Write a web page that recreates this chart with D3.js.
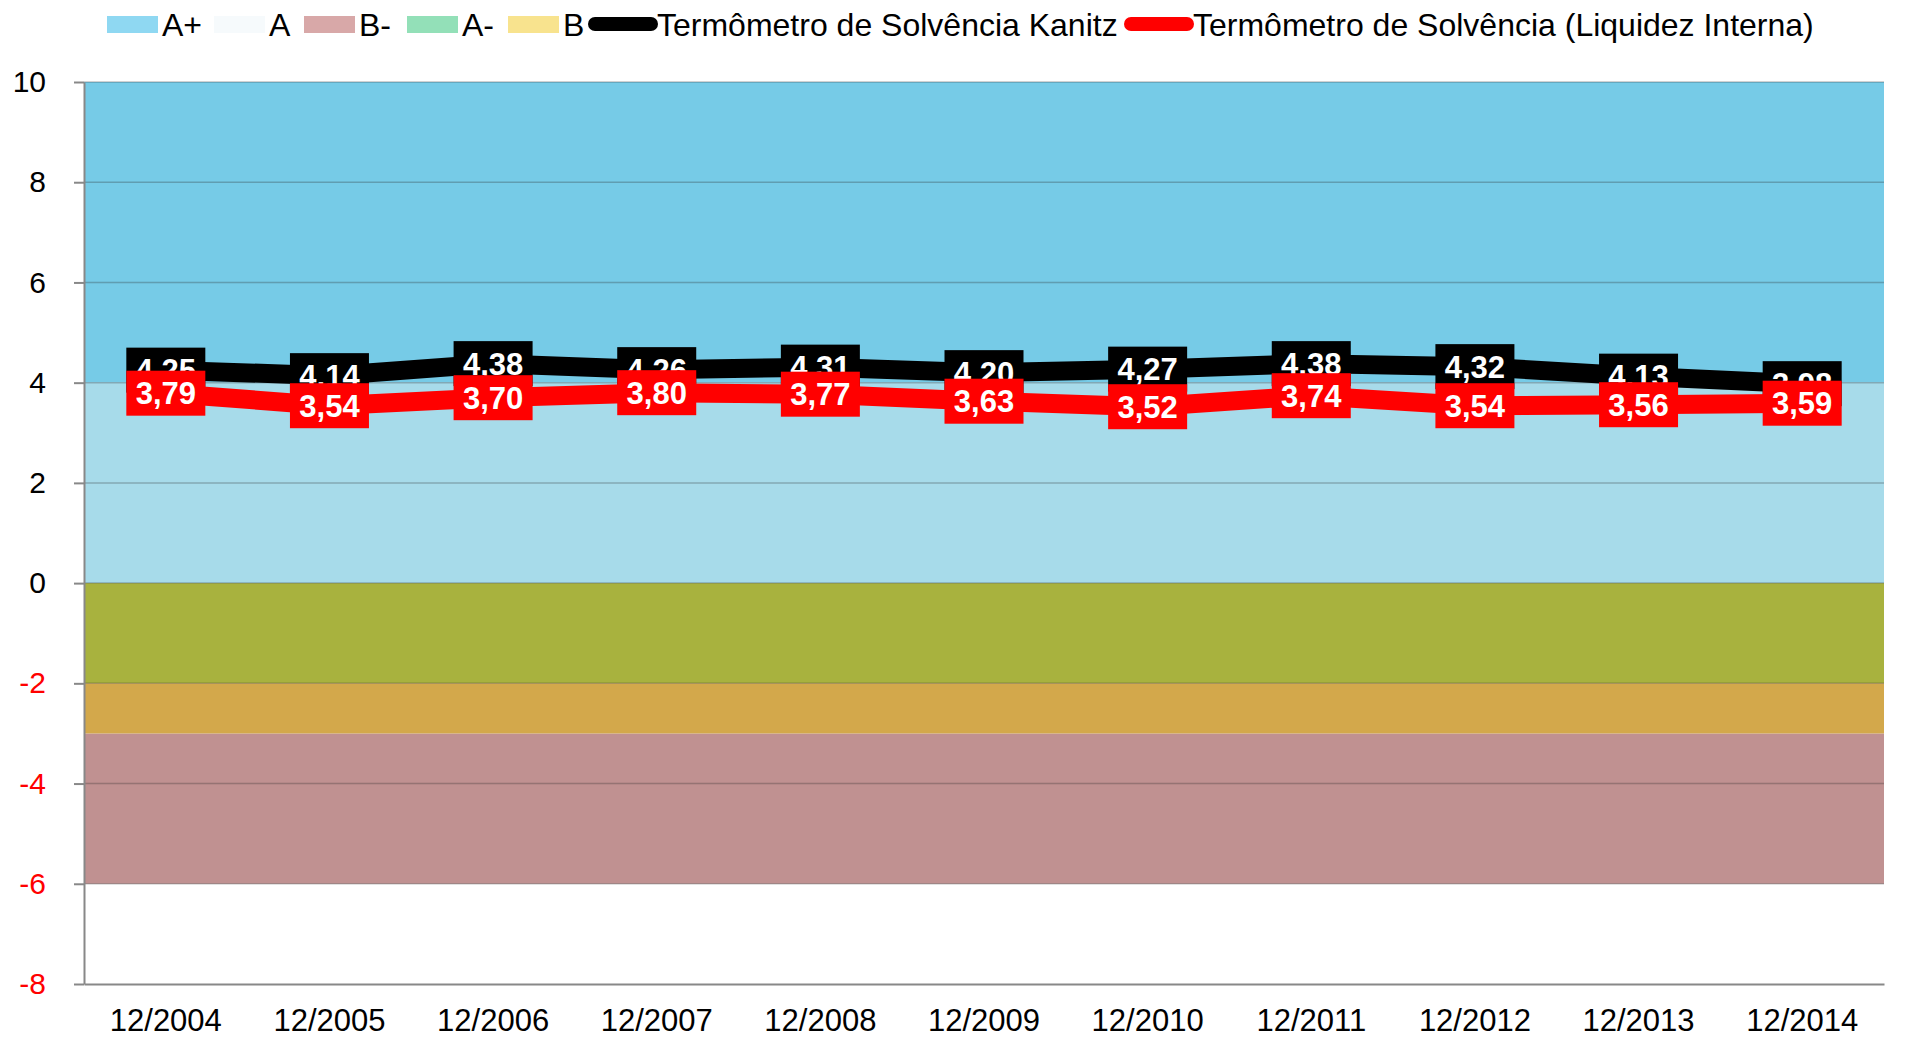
<!DOCTYPE html>
<html>
<head>
<meta charset="utf-8">
<script src="https://cdn.jsdelivr.net/npm/d3@7"></script>
<style>
  html, body { margin: 0; padding: 0; background: #fff; }
  svg { display: block; font-family: "Liberation Sans", Arial, sans-serif; }
</style>
</head>
<body>
<div id="chart"></div>
<script>
// Dados do gráfico
const periods = ["12/2004", "12/2005", "12/2006", "12/2007", "12/2008", "12/2009",
                 "12/2010", "12/2011", "12/2012", "12/2013", "12/2014"];
const kanitz = [4.25, 4.14, 4.38, 4.26, 4.31, 4.20, 4.27, 4.38, 4.32, 4.13, 3.98];
const liquidez = [3.79, 3.54, 3.70, 3.80, 3.77, 3.63, 3.52, 3.74, 3.54, 3.56, 3.59];

// Faixas de classificação
const bandNames = ["A+", "A", "B-", "A-", "B"];
const bandLow = [4, 0, -6, -2, -3];
const bandHigh = [10, 4, -3, 0, -2];
const yTicks = [10, 8, 6, 4, 2, 0, -2, -4, -6, -8];

const lineNames = ["Termômetro de Solvência Kanitz", "Termômetro de Solvência (Liquidez Interna)"];

// Cores
const bandFill = { "A+": "#76cbe7", "A": "#a7dbea", "B-": "#c09191", "A-": "#a8b23e", "B": "#d3a84b" };
const bandSwatch = { "A+": "#8fd8f2", "A": "#f6fafc", "B-": "#d8a8a8", "A-": "#93e0b8", "B": "#f8e38e" };
const lineColor = ["#000000", "#ff0000"];

const width = 1907, height = 1038;
const margin = { top: 82, right: 23, bottom: 54, left: 84 };

const svg = d3.select("#chart").append("svg")
  .attr("width", width)
  .attr("height", height);

const x = d3.scaleBand()
  .domain(periods)
  .range([margin.left, width - margin.right]);

const y = d3.scaleLinear()
  .domain([-8, 10])
  .range([height - margin.bottom, margin.top]);

// Faixas
const bands = bandNames.map((n, i) => ({ name: n, lo: bandLow[i], hi: bandHigh[i] }));
svg.append("g").selectAll("rect")
  .data(bands)
  .join("rect")
  .attr("x", margin.left)
  .attr("width", width - margin.right - margin.left)
  .attr("y", d => y(d.hi))
  .attr("height", d => y(d.lo) - y(d.hi))
  .attr("fill", d => bandFill[d.name]);

// Linhas de grade
svg.append("g").selectAll("line")
  .data(yTicks.filter(t => t > -8))
  .join("line")
  .attr("x1", margin.left)
  .attr("x2", width - margin.right)
  .attr("y1", d => y(d))
  .attr("y2", d => y(d))
  .attr("stroke", "rgba(40,40,40,0.28)")
  .attr("stroke-width", 1.5);

// Eixo Y
const yAxis = svg.append("g")
  .attr("transform", `translate(${margin.left},0)`)
  .call(d3.axisLeft(y).tickValues(yTicks).tickFormat(d => String(d))
    .tickSize(10).tickPadding(28).tickSizeOuter(0));
yAxis.select(".domain").attr("stroke", "#888").attr("stroke-width", 2);
yAxis.selectAll(".tick line").attr("stroke", "#888").attr("stroke-width", 2);
yAxis.selectAll(".tick text")
  .attr("font-size", 30)
  .attr("font-family", "Liberation Sans, Arial, sans-serif")
  .attr("fill", d => d < 0 ? "#ff0000" : "#000");

// Eixo X
const xAxis = svg.append("g")
  .attr("transform", `translate(0,${y(-8)})`)
  .call(d3.axisBottom(x).tickSize(0).tickPadding(25));
xAxis.select(".domain").attr("stroke", "#888").attr("stroke-width", 2);
xAxis.selectAll(".tick text")
  .attr("font-size", 31)
  .attr("font-family", "Liberation Sans, Arial, sans-serif")
  .attr("fill", "#000");

// Séries
const series = [kanitz, liquidez];
const line = d3.line()
  .x((d, i) => x(periods[i]) + x.bandwidth() / 2)
  .y(d => y(d));

const boxW = 79, boxH = 45;
series.forEach((vals, s) => {
  const g = svg.append("g");
  g.append("path")
    .datum(vals)
    .attr("d", line)
    .attr("fill", "none")
    .attr("stroke", lineColor[s])
    .attr("stroke-width", 19)
    .attr("stroke-linejoin", "round");

  const lab = g.selectAll("g.lab")
    .data(vals)
    .join("g")
    .attr("class", "lab")
    .attr("transform", (d, i) => `translate(${x(periods[i]) + x.bandwidth() / 2},${y(d)})`);
  lab.append("rect")
    .attr("x", -boxW / 2)
    .attr("y", -boxH / 2)
    .attr("width", boxW)
    .attr("height", boxH)
    .attr("fill", lineColor[s]);
  lab.append("text")
    .attr("text-anchor", "middle")
    .attr("dy", "0.36em")
    .attr("font-size", 31)
    .attr("font-weight", "bold")
    .attr("fill", "#fff")
    .text(d => d.toFixed(2).replace(".", ","));
});

// Legenda
const legend = svg.append("g").attr("transform", "translate(0,24)");
const legendBandX = [107, 214, 304, 407, 508];
bandNames.forEach((n, i) => {
  legend.append("rect")
    .attr("x", legendBandX[i])
    .attr("y", -8)
    .attr("width", 51)
    .attr("height", 17)
    .attr("fill", bandSwatch[n]);
  legend.append("text")
    .attr("x", legendBandX[i] + 55)
    .attr("dy", "0.36em")
    .attr("font-size", 32)
    .text(n);
});
const legendLineX = [595, 1131];
lineNames.forEach((n, i) => {
  legend.append("line")
    .attr("x1", legendLineX[i])
    .attr("x2", legendLineX[i] + 56)
    .attr("stroke", lineColor[i])
    .attr("stroke-width", 14)
    .attr("stroke-linecap", "round");
  legend.append("text")
    .attr("x", legendLineX[i] + 62)
    .attr("dy", "0.36em")
    .attr("font-size", 32)
    .text(n);
});
</script>
</body>
</html>
